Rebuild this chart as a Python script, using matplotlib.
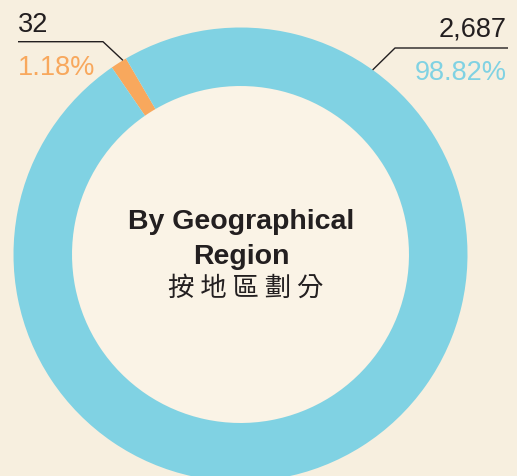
import matplotlib
matplotlib.use("Agg")
import matplotlib.pyplot as plt
import numpy as np
from matplotlib.patches import Circle

# ---- data ----
categories = ["Other", "Hong Kong"]
counts = [32, 2687]
count_labels = ["32", "2,687"]
pct_labels = ["1.18%", "98.82%"]
title_zh = "按 地 區 劃 分"

# ---- style ----
bg = "#f7efdf"
inner_bg = "#faf3e6"
colors = ["#f8a85d", "#80d2e3"]
dark = "#231f20"

W, H = 517, 477
fig = plt.figure(figsize=(W / 100, H / 100), dpi=100, facecolor=bg)
ax = fig.add_axes([0, 0, 1, 1])
ax.set_facecolor(bg)

cx, cy = 240.5, H - 255.5
R, r = 227, 168.5
start = 120.3

wedges, _ = ax.pie(counts, colors=colors, startangle=start, counterclock=True,
                   radius=R, center=(cx, cy),
                   wedgeprops=dict(width=R - r, edgecolor="none", linewidth=0))
ax.add_patch(Circle((cx, cy), r, facecolor=inner_bg, edgecolor="none", zorder=0.5))

ax.set_xlim(0, W)
ax.set_ylim(0, H)
ax.set_aspect("equal")
ax.axis("off")

fp = dict(family=["Liberation Sans", "DejaVu Sans"])

anchors = [
    dict(ang=121.2, elbow=(103, H - 42.7), end_x=18, ha="left", tx=18,
         cnt_y=H - 32, pct_y=H - 75),
    dict(ang=54.4, elbow=(395, H - 49), end_x=508, ha="right", tx=507,
         cnt_y=H - 37, pct_y=H - 80),
]
for i, a in enumerate(anchors):
    th = np.deg2rad(a["ang"])
    px, py = cx + R * np.cos(th), cy + R * np.sin(th)
    ex, ey = a["elbow"]
    ax.plot([px, ex, a["end_x"]], [py, ey, ey], color=dark, lw=1.0,
            solid_capstyle="butt", zorder=3)
    ax.text(a["tx"], a["cnt_y"], count_labels[i], ha=a["ha"], va="baseline",
            fontsize=19.5, color=dark, **fp)
    ax.text(a["tx"], a["pct_y"], pct_labels[i], ha=a["ha"], va="baseline",
            fontsize=19.5, color=colors[i], **fp)

ax.text(cx + 1, H - 229, "By Geographical", ha="center", va="baseline",
        fontsize=20.5, fontweight="bold", color=dark, **fp)
ax.text(cx + 1, H - 264, "Region", ha="center", va="baseline",
        fontsize=20.5, fontweight="bold", color=dark, **fp)
ax.text(cx + 5, H - 288, title_zh, ha="center", va="center",
        fontsize=19, fontweight="medium", color=dark,
        family=["Noto Sans CJK TC", "DejaVu Sans"])

fig.savefig("out.png", dpi=100, facecolor=bg)
